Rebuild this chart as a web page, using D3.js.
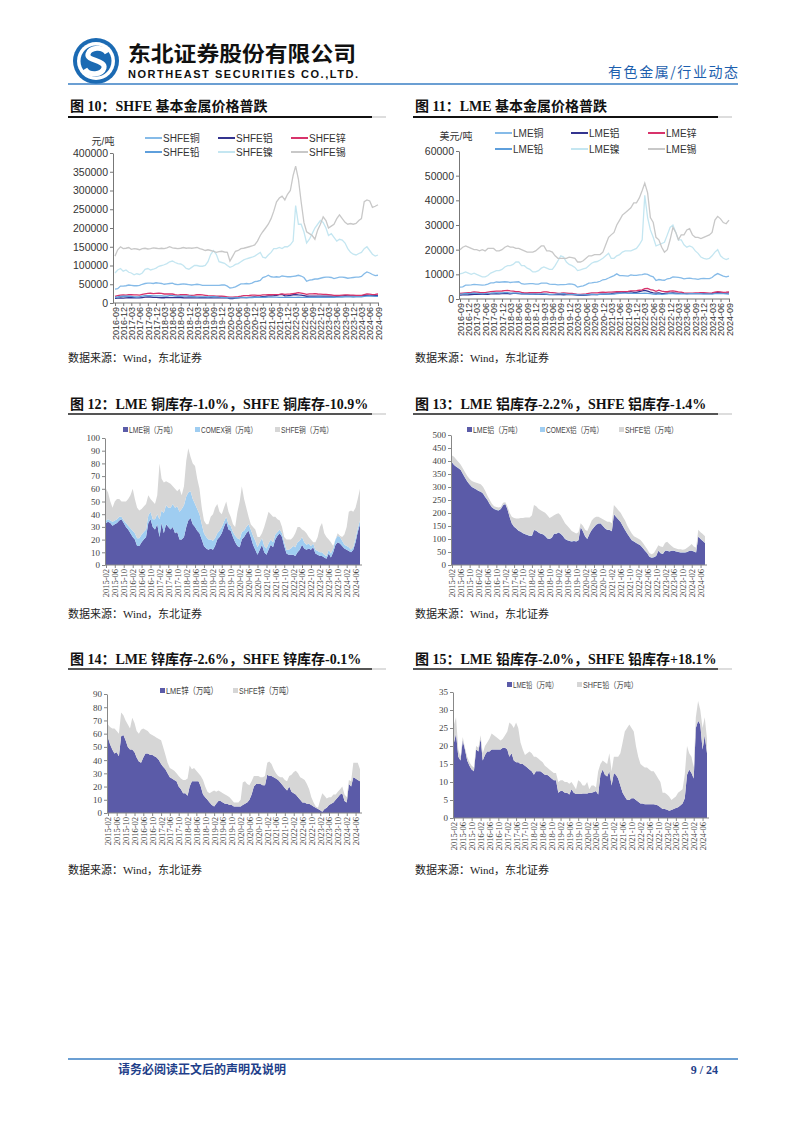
<!DOCTYPE html>
<html><head><meta charset="utf-8">
<script src="https://cdn.jsdelivr.net/npm/d3@7"></script>
<style>body{margin:0;background:#fff}svg{display:block}</style>
</head><body>
<svg id="page" width="802" height="1133"></svg>
<script>
// ---------------- DATA ----------------
// Monthly prices 2016-09 .. 2024-09 (97 points)
const shfeCu=[37000,38000,45000,45000, 46000,48000,47000,46000,46000,47000,50000,52000,53000,53000,52000,54000, 53000,52000,50000,51000,52000,53000,50000,49000,50000,51000,50000,49000, 48000,49000,50000,49000,47000,47000,47000,47000,47000,47000,47000,48000, 48000,45000,40000,41000,43000,47000,51000,51000,52000,51000,53000,57000, 58000,60000,68000,70000,74000,70000,69000,70000,69000,72000,71000,70000, 70000,71000,72000,74000,72000,68000,58000,61000,62000,64000,64000,66000, 68000,69000,69000,68000,65000,67000,69000,69000,68000,66000,67000,68000, 69000,69000,71000,78000,83000,80000,76000,73000,74000];
const shfeAl=[12500,13000,13500,13000, 13500,14000,14000,14000,13800,13500,14500,15500,16500,16000,15000,14800, 14500,14000,14000,14800,14500,14200,14200,14500,14500,14000,13800,13500, 13500,13500,13600,14000,14200,14000,14000,14000,13900,13800,14000,14000, 13800,13500,11800,12000,13000,13500,14200,14500,14500,15000,15500,16000, 15500,16000,17000,17500,19000,19000,19500,20500,22500,23000,19000,19500, 20500,22000,22500,21500,21000,19500,18000,18500,18500,18500,18500,18500, 18500,18500,18500,18500,18500,18000,18500,19000,19500,19000,19000,19000, 19000,19000,19000,20500,21000,20500,19500,19500,20000];
const shfeZn=[17500,19500,21000,21500, 21000,22000,22500,21500,21500,21000,23000,24500,25500,26000,25000,25500, 26000,25500,24000,24000,24500,24000,22000,21000,22000,22500,22000,21000, 20500,21000,22000,22500,21500,20500,19500,19000,19000,18500,18000,18000, 17500,16500,15500,15500,16500,17000,18000,19500,19500,20000,21000,21000, 20500,20500,21500,21500,22500,22000,22500,22500,23000,24500,23000,23500, 24000,25000,26000,27500,26500,25000,23000,24500,24500,25000,24000,23500, 23000,23000,22500,21500,20500,20000,20500,21000,21500,21500,21000,21000, 20500,20500,20500,22500,24500,23500,22500,23000,24000];
const shfePb=[15000,16000,17500,18000, 18500,18000,17500,16500,16000,17000,18500,19500,19500,19500,19000,19000, 19000,19000,18500,18500,19500,19500,18500,18000,18000,18500,18500,18000, 17500,17000,16500,16500,16500,16500,16000,16500,17000,16500,15500,15000, 14500,14500,13800,13800,14000,14500,15000,15000,14500,14500,14500,14800, 15000,15000,15200,15300,15500,15500,15500,15500,14800,15000,15000,15300, 15300,15200,15200,15300,15200,15100,15000,15000,15000,15000,15300,15300, 15200,15200,15200,15200,15300,15400,15500,16000,16300,16500,16200,16000, 16300,16500,16500,17500,18500,19200,18500,17500,17500];
const shfeNi=[80000,88000,92000,85000, 88000,82000,80000,75000,78000,76000,80000,90000,92000,88000,90000,93000, 98000,100000,102000,105000,110000,112000,108000,105000,104000,100000,92000,90000, 95000,100000,100000,98000,98000,100000,110000,130000,140000,130000,110000,108000, 106000,100000,95000,98000,103000,105000,110000,115000,118000,120000,122000,125000, 130000,135000,122000,120000,128000,135000,145000,145000,148000,145000,150000,150000, 155000,165000,260000,210000,210000,190000,160000,170000,185000,200000,210000,220000, 215000,200000,180000,185000,175000,165000,170000,168000,160000,145000,135000,130000, 128000,132000,135000,145000,150000,140000,130000,125000,128000];
const shfeSn=[125000,142000,150000,145000, 146000,148000,143000,145000,144000,142000,145000,146000,144000,145000,147000,146000, 145000,146000,145000,147000,150000,147000,146000,145000,146000,148000,146000,147000, 146000,147000,148000,145000,143000,140000,142000,140000,138000,135000,137000,138000, 136000,135000,112000,125000,138000,140000,145000,146000,148000,150000,152000,155000, 165000,180000,190000,200000,210000,225000,245000,270000,280000,285000,275000,290000, 300000,340000,365000,330000,270000,215000,190000,185000,180000,170000,195000,210000, 230000,220000,200000,205000,210000,225000,235000,225000,215000,210000,212000,210000, 212000,220000,225000,270000,275000,272000,255000,258000,262000];

const lmeCu=[4800,4900,5600,5600, 5700,5900,5800,5700,5600,5700,6000,6500,6500,6900,6800,6900, 7000,6900,6700,6800,6900,7000,6200,6000,6100,6200,6200,6000, 6000,6400,6400,6400,6000,5900,5900,5700,5800,5800,5900,6100, 6000,5700,4800,5100,5300,5800,6400,6500,6700,6800,7200,7800, 8000,8500,9000,9500,10200,9500,9500,9400,9300,9800,9600,9600, 9800,9900,10200,10000,9400,9000,7500,7900,7700,7600,8200,8400, 9000,8900,8800,8600,8200,8400,8500,8300,8200,8000,8300,8400, 8300,8300,8700,9700,10300,9800,9300,9000,9300];
const lmeAl=[1600,1650,1700,1720, 1800,1880,1900,1920,1920,1880,1900,2050,2100,2150,2100,2150, 2200,2150,2050,2300,2300,2200,2050,2050,2050,2000,1950,1930, 1850,1860,1880,1850,1800,1780,1800,1750,1760,1730,1770,1780, 1770,1700,1600,1480,1500,1580,1650,1750,1760,1800,1950,2000, 2000,2080,2200,2400,2450,2500,2550,2650,2850,2950,2650,2700, 3000,3300,3500,3200,2800,2500,2400,2450,2200,2250,2400,2400, 2500,2400,2300,2350,2250,2200,2200,2150,2200,2200,2250,2200, 2200,2200,2280,2500,2600,2500,2350,2400,2500];
const lmeZn=[2300,2400,2500,2600, 2700,2850,2800,2650,2600,2550,2750,2950,3100,3200,3200,3250, 3400,3500,3300,3200,3000,3000,2700,2500,2450,2600,2550,2550, 2600,2700,2900,2850,2700,2600,2500,2300,2350,2450,2400,2300, 2300,2100,1900,1900,2000,2050,2250,2450,2450,2500,2700,2800, 2700,2800,2800,2900,3000,2950,3000,3000,3100,3300,3300,3400, 3550,3700,4200,4300,3800,3600,3100,3600,3200,3000,2950,3200, 3300,3100,2900,2800,2500,2400,2400,2400,2500,2450,2550,2600, 2500,2400,2450,2800,2950,2850,2700,2750,2900];
const lmePb=[1950,2050,2250,2150, 2250,2350,2300,2200,2100,2150,2300,2350,2450,2500,2450,2500, 2600,2550,2400,2350,2400,2400,2200,2050,2000,2000,1950,1950, 2000,2050,2050,1950,1850,1900,1950,2050,2100,2200,2000,1900, 1900,1850,1750,1650,1650,1750,1800,1950,1900,1800,1900,2000, 2000,2050,1950,2000,2150,2250,2350,2400,2250,2400,2300,2300, 2300,2300,2400,2300,2150,1950,1900,2050,1900,1950,2100,2250, 2150,2100,2100,2150,2100,2100,2150,2200,2200,2150,2200,2050, 2100,2050,2000,2150,2200,2200,2150,2050,2000];
const lmeNi=[10200,10500,11000,10500, 10000,10500,10000,9500,9000,9000,9500,10500,11000,11500,11500,12000, 13000,13500,13500,14000,15000,15000,13500,13500,12500,12000,11000,11000, 11500,12500,13000,12500,12000,12000,13500,15500,17500,17000,15000,14000, 13500,12800,11500,11800,12200,12500,13500,14500,15000,15200,15800,16500, 17500,18500,16500,16500,17500,18000,19000,19500,19500,19500,20000,20500, 22000,24000,42000,33000,28000,25000,21500,22000,22500,23000,26000,29000, 30000,27000,24000,24000,22000,21000,21500,21000,19500,18500,17000,16500, 16200,16500,17500,19000,20000,17500,16500,16000,16500];
const lmeSn=[20000,21000,21500,21000, 20500,20000,20000,19500,20000,19500,20500,20500,20500,19500,19500,20000, 21000,21500,21000,21000,20500,20500,20000,19500,19000,19000,19000,19500, 20500,21500,21500,19500,19500,19000,17500,16500,16500,16500,16500,17000, 16800,16500,15000,15000,15500,16500,17500,17500,18000,18000,18000,19000, 22000,25000,26000,27000,30000,32000,34000,35000,36000,37000,39000,39000, 41000,44000,47000,43000,33000,31000,25000,24000,21000,19000,20000,24000, 29000,27000,24000,26000,26000,28000,28500,26000,25000,25000,24500,25000, 25500,26000,27000,32000,33500,32500,31000,30500,32000];

// Monthly inventories (万吨) 2015-02 .. 2024-08 (115 points)
const invCuLME=[33,34,33,31,32,33,35,36,33,30,28, 25,22,20,15,15,18,20,22,33,36,30,28, 32,22,33,25,32,30,28,30,25,26,20,20, 22,30,35,37,32,30,27,25,20,15,13,12, 13,12,15,20,22,25,30,34,28,27,22,18, 15,14,20,22,25,27,22,16,12,8,12,16, 10,8,12,16,14,20,23,25,22,15,9,8, 8,8,7,10,12,16,13,12,13,12,14,9, 8,7,7,6,5,9,6,10,16,18,17,15, 13,12,11,10,12,18,26,32];
const invCuCOMEX=[2,2,2,3,3,3,3,2,2,3,3, 4,5,5,6,6,6,6,6,6,6,6,8, 8,14,10,16,15,15,17,18,20,20,22,24, 25,24,22,21,20,18,17,15,12,10,9,8, 7,7,6,5,5,5,4,4,4,4,4,5, 6,6,6,5,5,5,6,7,7,6,6,5, 5,5,5,4,4,4,3,3,3,3,3,4, 5,7,7,8,7,6,5,4,4,3,3,3, 3,3,3,2,2,3,3,3,4,5,5,4, 3,3,3,2,2,3,3,3];
const invCuSHFE=[25,21,15,11,15,16,14,12,15,17,21, 26,33,27,24,22,20,20,20,16,10,14,12, 15,44,25,24,19,20,19,14,15,12,18,11, 15,28,35,27,28,30,24,20,13,10,10,12, 18,21,24,23,15,10,11,12,10,7,6,7, 21,30,36,25,15,6,4,7,9,8,4,4, 15,23,25,20,20,14,10,7,5,4,8,8, 7,7,11,12,11,6,9,9,5,5,1,6, 11,20,23,17,15,8,9,2,0,2,1,3, 8,15,28,31,28,24,23,25];

const invAlLME=[395,385,378,372,365,350,335,320,310,300,295, 290,285,282,275,262,250,235,222,215,212,210,215, 230,235,215,185,160,147,140,132,128,122,118,115, 112,112,135,132,125,120,118,112,102,100,105,120, 120,125,120,112,100,95,92,90,92,90,95,145, 130,110,100,120,135,145,155,160,160,150,140,135, 135,130,195,185,175,165,150,135,120,108,95,90, 85,80,75,65,55,45,32,28,30,35,55,45, 42,55,55,52,55,55,52,50,48,48,48,50, 55,55,52,48,110,100,92,85];
const invAlCOMEX=[1,1,1,1,1,1,1,1,1,1,1, 1,1,1,1,1,1,1,1,1,1,1,1, 1,1,1,1,1,1,1,1,1,1,1,1, 1,1,1,1,1,1,1,1,1,1,1,1, 1,1,1,1,1,1,1,1,1,1,1,1, 1,1,1,1,1,1,1,1,1,1,1,1, 1,1,1,1,1,1,1,1,1,1,1,1, 1,1,1,1,1,1,1,1,1,1,1,1, 1,1,1,1,1,1,1,1,1,1,1,1, 1,1,1,1,1,1,1,1];
const invAlSHFE=[25,30,27,23,20,20,20,20,20,22,23, 25,27,28,25,23,15,15,13,10,10,10,7, 8,5,10,15,25,33,38,46,52,58,64,67, 70,78,95,93,90,90,87,88,88,80,80,70, 75,73,70,63,60,55,48,40,33,30,30,15, 20,25,30,30,35,35,30,25,20,25,30,30, 30,30,35,35,35,35,35,35,30,27,25,20, 20,20,20,20,17,15,13,12,15,25,20,25, 26,30,33,28,17,10,10,10,12,10,12,15, 17,25,18,17,25,25,26,25];

const invZnLME=[57,52,48,45,46,43,58,59,55,50,48, 48,46,42,39,38,42,45,45,44,44,43,42, 40,37,35,33,30,27,26,25,24,20,18,15, 15,13,20,24,24,24,24,20,14,12,10,8, 6,5,7,9,9,8,7,7,6,6,5,5, 5,5,6,7,8,10,14,20,22,22,22,21, 21,29,28,28,27,26,25,23,21,19,17,20, 16,15,14,12,10,8,8,7,7,6,5,4, 3,2,1,3,4,6,7,8,10,12,14,15, 9,8,22,20,27,26,25,24];
const invZnSHFE=[10,13,16,19,16,17,18,15,15,17,16, 24,22,20,21,25,22,18,17,16,15,15,15, 16,18,15,11,8,7,7,7,6,8,8,10, 10,13,16,9,10,8,6,8,11,8,6,7, 10,12,9,8,7,7,7,6,6,4,3,3, 3,5,17,17,14,11,10,8,6,6,5,6, 7,9,11,9,6,4,3,4,6,6,7,8, 13,16,18,18,17,18,17,15,11,6,3,1, 1,8,14,10,7,6,5,6,4,4,4,5, 5,4,3,4,11,12,13,9];

const invPbLME=[21,23.5,17,16,21.5,19,16,14.5,13.5,13,19, 18.5,22,16,17.5,18.5,18.5,19,19,19,19,19,19.5, 19.5,19,17,18,16,15.5,15.5,15,15,14.5,14,13.5, 13,12,13,13,13,12.5,12,12,11.5,11,10.5,10.5, 7,7.5,7.5,7,7,6.5,8,7,6.7,6.7,6.7,6.8, 6.8,6.8,7,7,7.2,7.5,6.5,12,13.5,12,11.5,13, 9,12.5,12,11,9,7,6,5,5,5.5,5.5,5, 4.5,4,4,3.8,3.8,3.8,3.8,3.8,3.7,3.5,3,2.5, 2.5,2.3,2,2.2,2.5,2.8,3,3.5,4,5.5,12,13.5, 12.5,11,25,27,26,19,23,18];
const invPbSHFE=[5,4.5,2,1,1,0.5,1,1,1,1,1, 1,1,2,2.5,2.5,3.5,4.5,4,3.5,3,2.5,2.5, 3.5,5,9.5,8,9,11,9.5,6,4,3,4,5, 5,5,4,3.5,3,3,2.5,2,2,2,2,2, 3,3,3,3,3,3,2,2,1.3,3.8,3.3,2.2, 2.2,3.2,1,2,1.8,1,6.5,3,2.5,3.5,3.5,5, 4,4.5,5,6,9,14,18,20,21,19.5,18.5,15, 12.5,11,10.5,10.2,10.2,9.7,9.2,9.2,8.3,7.5,7,4.5, 4.5,4.2,4,2.8,3,3.2,4,4,4,6.5,8,4.5, 4.5,3,3,5.5,4,6,5,4];

const shfeNames=["SHFE铜","SHFE铝","SHFE锌","SHFE铅","SHFE镍","SHFE锡"];
const lmeNames=["LME铜","LME铝","LME锌","LME铅","LME镍","LME锡"];
const shfeYTicks=[0,50000,100000,150000,200000,250000,300000,350000,400000];
const lmeYTicks=[0,10000,20000,30000,40000,50000,60000];

// ---------------- DRAW ----------------
const svg=d3.select('#page');
const SERIF='"Liberation Serif","Times New Roman","Noto Sans CJK SC",serif';
const SANS='"Liberation Sans",Arial,"Noto Sans CJK SC",sans-serif';
const CJK='"Noto Sans CJK SC",sans-serif';
const lineColors=["#86bbe8","#34348f","#d8336b","#5e9fdc","#c4e6f1","#c8c8c8"];
const invColors={LME:"#5b5ba8",COMEX:"#9fcdf1",SHFE:"#d6d6d6"};

// header
const lg=svg.append('g');
lg.append('circle').attr('cx',96).attr('cy',61).attr('r',23).attr('fill','#1b6ab3');
lg.append('circle').attr('cx',96).attr('cy',61).attr('r',19).attr('fill','#fff');
lg.append('circle').attr('cx',96).attr('cy',61).attr('r',15.5).attr('fill','#1b6ab3');
lg.append('path').attr('d','M107,53 C103,46 90,47 88,54 C86,61 106,60 104,68 C102,75 89,76 85,69')
  .attr('fill','none').attr('stroke','#fff').attr('stroke-width',5);
svg.append('text').attr('x',128).attr('y',61).attr('font-family',CJK).attr('font-weight','bold')
  .attr('font-size',21).attr('textLength',228).attr('lengthAdjust','spacingAndGlyphs').attr('fill','#111').text('东北证券股份有限公司');
svg.append('text').attr('x',128).attr('y',77.5).attr('font-family',SANS).attr('font-weight','bold')
  .attr('font-size',11).attr('textLength',230).attr('fill','#111').text('NORTHEAST SECURITIES CO.,LTD.');
svg.append('text').attr('x',608).attr('y',77).attr('font-family',CJK).attr('font-size',14)
  .attr('textLength',130).attr('fill','#1d5fae').text('有色金属/行业动态');
svg.append('line').attr('x1',68).attr('x2',738).attr('y1',84).attr('y2',84).attr('stroke','#3a7fc4').attr('stroke-width',1.5);

// footer
svg.append('line').attr('x1',68).attr('x2',738).attr('y1',1059).attr('y2',1059).attr('stroke','#3a7fc4').attr('stroke-width',1.5);
svg.append('text').attr('x',118).attr('y',1074).attr('font-family',CJK).attr('font-weight','bold')
  .attr('font-size',12).attr('fill','#1f3f8a').text('请务必阅读正文后的声明及说明');
svg.append('text').attr('x',718).attr('y',1074).attr('text-anchor','end').attr('font-family',SERIF).attr('font-weight','bold')
  .attr('font-size',12).attr('fill','#1f3f8a').text('9 / 24');

function title(x,y,x1,x2,txt,lineY,thick){
  svg.append('text').attr('x',x).attr('y',y).attr('font-family',SERIF).attr('font-weight','bold')
    .attr('font-size',14).attr('fill','#111').text(txt);
  svg.append('line').attr('x1',x1).attr('x2',x2).attr('y1',lineY).attr('y2',lineY)
    .attr('stroke',thick?'#111':'#555').attr('stroke-width',2);
  svg.append('line').attr('x1',x2).attr('x2',x2+14).attr('y1',lineY).attr('y2',lineY)
    .attr('stroke','#bbb').attr('stroke-width',1);
}
function source(x,y){
  svg.append('text').attr('x',x).attr('y',y).attr('font-family',SERIF).attr('font-size',11)
    .attr('fill','#222').text('数据来源：Wind，东北证券');
}

title(70,111,68,372,'图 10：SHFE 基本金属价格普跌',117,true);
title(415,111,413,718,'图 11：LME 基本金属价格普跌',117,true);
title(70,409,68,372,'图 12：LME 铜库存-1.0%，SHFE 铜库存-10.9%',414,false);
title(415,409,413,718,'图 13：LME 铝库存-2.2%，SHFE 铝库存-1.4%',414,false);
title(70,664,68,372,'图 14：LME 锌库存-2.6%，SHFE 锌库存-0.1%',669,false);
title(415,664,413,718,'图 15：LME 铅库存-2.0%，SHFE 铅库存+18.1%',669,false);
source(68,362);source(415,362);source(68,618);source(415,618);source(68,874);source(415,874);

function priceChart(o){
  const g=svg.append('g');
  const months=d3.timeMonth.range(new Date(2016,8,1),new Date(2024,9,1));
  const x=d3.scaleTime().domain([months[0],months[months.length-1]]).range([o.x0,o.x1]);
  const y=d3.scaleLinear().domain([0,o.max]).range([o.yb,o.yt]);
  const ya=g.append('g').attr('transform',`translate(${o.ax},0)`)
    .call(d3.axisLeft(y).tickValues(o.yTicks).tickSize(3).tickSizeOuter(0).tickFormat(d3.format('d')));
  ya.select('.domain').attr('stroke','#777');
  ya.selectAll('.tick line').attr('stroke','#777');
  ya.selectAll('text').attr('font-family',SANS).attr('font-size',10.5).attr('fill','#333').attr('x',-5);
  const xt=d3.timeMonth.range(new Date(2016,8,1),new Date(2024,9,1),3);
  const xa=g.append('g').attr('transform',`translate(0,${o.yb})`)
    .call(d3.axisBottom(x).tickValues(xt).tickSize(3).tickSizeOuter(0).tickFormat(d3.timeFormat('%Y-%m')));
  xa.select('.domain').remove();
  xa.append('line').attr('x1',o.ax).attr('x2',o.x1+1).attr('stroke','#777');
  xa.selectAll('.tick line').attr('stroke','#777');
  xa.selectAll('text').attr('font-family',SANS).attr('font-size',9).attr('fill','#333')
    .attr('transform','rotate(-90)').attr('text-anchor','end').attr('x',-4).attr('y',0).attr('dy','0.35em');
  const line=d3.line().x((d,i)=>x(months[i])).y(d=>y(d));
  o.series.forEach((s,i)=>{
    g.append('path').datum(s).attr('d',line).attr('fill','none').attr('stroke',lineColors[i]).attr('stroke-width',1.3);
  });
  g.append('text').attr('x',o.unitX).attr('y',o.unitY).attr('text-anchor','middle').attr('font-family',SANS)
    .attr('font-size',10).attr('fill','#333').text(o.unit);
  o.names.forEach((n,i)=>{
    const r=Math.floor(i/3),c=i%3;
    const yy=o.legY[r];
    g.append('line').attr('x1',o.legX[c]).attr('x2',o.legX[c]+17).attr('y1',yy).attr('y2',yy)
      .attr('stroke',lineColors[i]).attr('stroke-width',2);
    g.append('text').attr('x',o.legX[c]+18).attr('y',yy+3.5).attr('font-family',SANS).attr('font-size',10)
      .attr('fill','#333').text(n);
  });
}

priceChart({ax:113,x0:115,x1:378,yt:153,yb:303,max:400000,yTicks:shfeYTicks,
  series:[shfeCu,shfeAl,shfeZn,shfePb,shfeNi,shfeSn],names:shfeNames,
  unit:'元/吨',unitX:103,unitY:145,legY:[138,152],legX:[145,218,291]});
priceChart({ax:459,x0:460,x1:729,yt:151,yb:299,max:60000,yTicks:lmeYTicks,
  series:[lmeCu,lmeAl,lmeZn,lmePb,lmeNi,lmeSn],names:lmeNames,
  unit:'美元/吨',unitX:456,unitY:140,legY:[133,149],legX:[495,571,648]});

function invChart(o){
  const g=svg.append('g');
  const months=d3.timeMonth.range(new Date(2015,1,1),new Date(2024,8,1));
  const x=d3.scaleTime().domain([months[0],months[months.length-1]]).range([o.x0,o.x1]);
  const y=d3.scaleLinear().domain([0,o.max]).range([o.yb,o.yt]);
  const rows=months.map((m,i)=>{const r={i};o.keys.forEach((k,j)=>r[k]=o.data[j][i]);return r;});
  const stack=d3.stack().keys(o.keys)(rows);
  const area=d3.area().x(d=>x(months[d.data.i])).y0(d=>y(d[0])).y1(d=>y(d[1]));
  stack.forEach((s,j)=>{
    g.append('path').datum(s).attr('d',area).attr('fill',invColors[o.keys[j]]);
  });
  const ya=g.append('g').attr('transform',`translate(${o.ax},0)`)
    .call(d3.axisLeft(y).tickValues(d3.range(0,o.max+0.001,o.step)).tickSize(3).tickSizeOuter(0));
  ya.select('.domain').attr('stroke','#888');
  ya.selectAll('.tick line').attr('stroke','#888');
  ya.selectAll('text').attr('font-family',SERIF).attr('font-size',9).attr('fill','#444').attr('x',-5);
  const xt=d3.timeMonth.range(new Date(2015,1,1),new Date(2024,6,1),4);
  const xa=g.append('g').attr('transform',`translate(0,${o.yb})`)
    .call(d3.axisBottom(x).tickValues(xt).tickSize(3).tickSizeOuter(0).tickFormat(d3.timeFormat('%Y-%m')));
  xa.select('.domain').remove();
  xa.append('line').attr('x1',o.ax).attr('x2',o.x1+2).attr('stroke','#888');
  xa.selectAll('.tick line').attr('stroke','#888');
  xa.selectAll('text').attr('font-family',SERIF).attr('font-size',8.5).attr('fill','#444')
    .attr('transform','rotate(-90)').attr('text-anchor','end').attr('x',-4).attr('y',0).attr('dy','0.35em');
  o.labels.forEach((t,j)=>{
    g.append('rect').attr('x',o.legX[j]).attr('y',o.legY-3).attr('width',5).attr('height',5)
      .attr('fill',invColors[o.keys[j]]);
    g.append('text').attr('x',o.legX[j]+6).attr('y',o.legY+3).attr('font-family',SANS).attr('font-size',o.legFs||8.5)
      .attr('textLength',o.legW[j]).attr('lengthAdjust','spacingAndGlyphs')
      .attr('fill','#444').text(t);
  });
}

invChart({ax:105,x0:106,x1:360,yt:438,yb:565,max:100,step:10,keys:['LME','COMEX','SHFE'],
  data:[invCuLME,invCuCOMEX,invCuSHFE],labels:['LME铜（万吨）','COMEX铜（万吨）','SHFE铜（万吨）'],
  legX:[123,195,275],legW:[48,56,52],legY:430});
invChart({ax:451,x0:452,x1:705,yt:435,yb:565,max:500,step:50,keys:['LME','COMEX','SHFE'],
  data:[invAlLME,invAlCOMEX,invAlSHFE],labels:['LME铝（万吨）','COMEX铝（万吨）','SHFE铝（万吨）'],
  legX:[467,540,619],legW:[49,57,53],legY:430});
invChart({ax:107,x0:108,x1:360,yt:694,yb:813,max:90,step:10,keys:['LME','SHFE'],
  data:[invZnLME,invZnSHFE],labels:['LME锌（万吨）','SHFE锌（万吨）'],
  legX:[160,233],legW:[52,54],legY:691,legFs:9.5});
invChart({ax:453,x0:454,x1:707,yt:692,yb:818,max:35,step:5,keys:['LME','SHFE'],
  data:[invPbLME,invPbSHFE],labels:['LME铅（万吨）','SHFE铅（万吨）'],
  legX:[507,577],legW:[45,55],legY:685});
</script>
</body></html>
